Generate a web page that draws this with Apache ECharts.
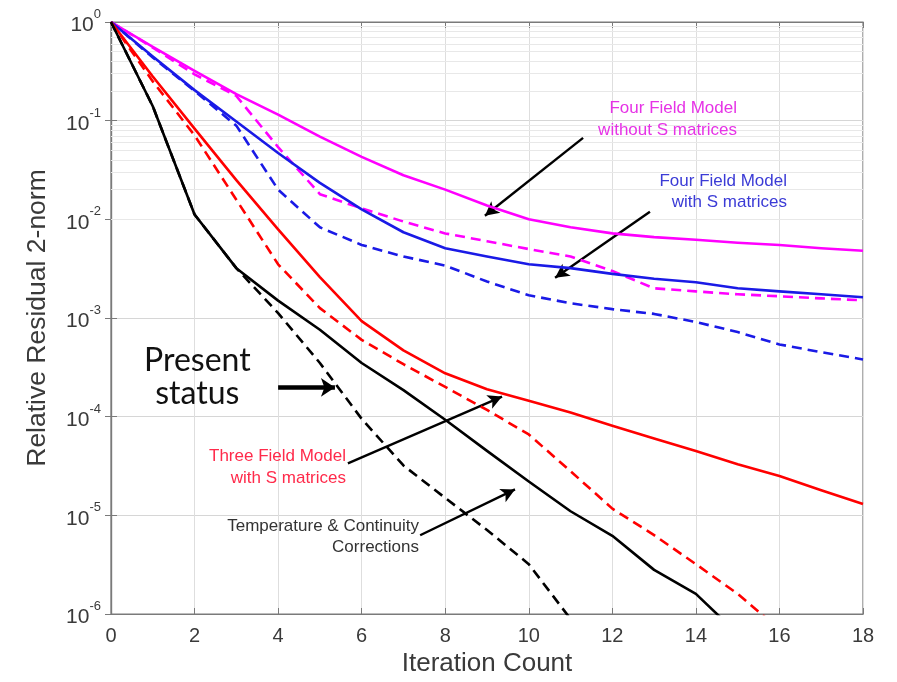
<!DOCTYPE html>
<html><head><meta charset="utf-8">
<script src="https://cdn.jsdelivr.net/npm/echarts@6/dist/echarts.min.js"></script>
<style>html,body{margin:0;padding:0;background:#fff}#c{width:897px;height:682px}</style>
</head><body><div id="c"></div>
<script>
// Iteration counts
const iterations = [0,1,2,3,4,5,6,7,8,9,10,11,12,13,14,15,16,17,18];
// Relative residual 2-norm
const fourFieldNoS       = [1,0.56,0.32,0.186,0.115,0.069,0.043,0.028,0.020,0.0138,0.0100,0.0083,0.0072,0.0066,0.0062,0.0058,0.0055,0.0051,0.0048];
const fourFieldNoSDash   = [1,0.55,0.295,0.178,0.054,0.018,0.0129,0.0095,0.0072,0.0060,0.0050,0.0042,0.0030,0.0020,0.00186,0.00174,0.00166,0.00158,0.00151];
const fourFieldS         = [1,0.447,0.204,0.098,0.047,0.0234,0.0126,0.0074,0.0051,0.0042,0.0035,0.0032,0.0028,0.0025,0.0023,0.0020,0.00186,0.00174,0.00162];
const fourFieldSDash     = [1,0.437,0.20,0.089,0.020,0.0083,0.0055,0.0042,0.0034,0.00234,0.0017,0.00141,0.00123,0.0011,0.00091,0.00072,0.00054,0.00045,0.00038];
const threeFieldS        = [1,0.28,0.083,0.025,0.0079,0.0026,0.00093,0.00047,0.000275,0.00019,0.000145,0.00011,8.1e-5,6.0e-5,4.5e-5,3.3e-5,2.5e-5,1.8e-5,1.3e-5];
const threeFieldSDash    = [1,0.25,0.071,0.0158,0.0035,0.00126,0.0006,0.00034,0.0002,0.000117,6.6e-5,2.8e-5,1.17e-5,6.3e-6,3.2e-6,1.6e-6,7e-7];
const tempCont           = [1,0.14,0.0112,0.0032,0.0015,0.00076,0.00035,0.000186,9.3e-5,4.5e-5,2.2e-5,1.1e-5,6.2e-6,2.8e-6,1.6e-6,6.3e-7];
const tempContDash       = [1,0.14,0.0112,0.0032,0.00112,0.00035,9.5e-5,3.2e-5,1.5e-5,7.1e-6,3.2e-6,8.9e-7];
// Axis ticks
const xTicks = [0,2,4,6,8,10,12,14,16,18];
const yDecades = [1e-6,1e-5,1e-4,1e-3,1e-2,1e-1,1];
const minorMultipliers = [2,3,4,5,6,7,8,9];
// Annotation arrows (data coordinates: [x, y])
const arrowNoS     = [[11.30,0.067],[8.95,0.01086]];
const arrowS       = [[12.90,0.01194],[10.63,0.002564]];
const arrowThree   = [[5.67,3.36e-5],[9.36,1.60e-4]];
const arrowTemp    = [[7.40,6.28e-6],[9.67,1.83e-5]];
const arrowPresent = [[4.0,1.98e-4],[5.36,1.98e-4]];

function pairs(arr){ return arr.map((v,i)=>[iterations[i], v]); }

const minorValues = [];
for (let k = 0; k < yDecades.length - 1; k++) {
  minorMultipliers.forEach(m => minorValues.push(m * yDecades[k]));
}

const chart = echarts.init(document.getElementById('c'));
const font = 'Liberation Sans, Arial, Helvetica, sans-serif';
const axisColor = '#3a3a3a';

function lineSeries(name, data, color, dashed){
  return {
    name, type:'line', data: pairs(data), symbol:'none', smooth:false, clip:true,
    lineStyle:{color, width:2.6, type: dashed ? [10,6] : 'solid', join:'round'},
    z: 5
  };
}
function arrow(a){ return [{coord:a[0]},{coord:a[1]}]; }

const option = {
  animation:false,
  backgroundColor:'#ffffff',
  grid:{left:111, right:34, top:22, bottom:67, show:true, borderColor:'#7a7a7a', borderWidth:1.2},
  xAxis:[{
    type:'value', min:0, max:18, interval:2,
    name:'Iteration Count', nameLocation:'middle', nameGap:37,
    nameTextStyle:{fontSize:26, color:axisColor, fontFamily:font},
    axisLine:{show:true, lineStyle:{color:'#7a7a7a', width:1.2}},
    axisTick:{show:true, inside:true, length:6, lineStyle:{color:'#7a7a7a'}},
    axisLabel:{fontSize:20, color:axisColor, fontFamily:font, margin:12},
    splitLine:{show:true, lineStyle:{color:'#dedede', width:1}}
  },{
    type:'value', min:0, max:18, interval:2, position:'top',
    axisLine:{show:true, lineStyle:{color:'#7a7a7a', width:1.2}},
    axisTick:{show:true, inside:true, length:6, lineStyle:{color:'#7a7a7a'}},
    axisLabel:{show:false}, splitLine:{show:false}
  }],
  yAxis:[{
    type:'log', logBase:10, min:1e-6, max:1, splitNumber:6,
    name:'Relative Residual 2-norm', nameLocation:'middle', nameGap:60,
    nameTextStyle:{fontSize:26.5, color:axisColor, fontFamily:font},
    axisLine:{show:true, lineStyle:{color:'#7a7a7a', width:1.2}},
    axisTick:{show:true, inside:true, length:6, lineStyle:{color:'#7a7a7a'}},
    axisLabel:{
      margin:10, color:axisColor, fontFamily:font,
      formatter: v => '{b|10}{s|' + Math.round(Math.log10(v)) + '}',
      rich:{
        b:{fontSize:21, color:axisColor, fontFamily:font, lineHeight:28, verticalAlign:'bottom'},
        s:{fontSize:13, color:axisColor, fontFamily:font, lineHeight:28, verticalAlign:'top'}
      }
    },
    splitLine:{show:true, lineStyle:{color:'#d6d6d6', width:1}}
  },{
    type:'log', logBase:10, min:1e-6, max:1, splitNumber:6, position:'right',
    axisLine:{show:true, lineStyle:{color:'#7a7a7a', width:1.2}},
    axisTick:{show:true, inside:true, length:6, lineStyle:{color:'#7a7a7a'}},
    axisLabel:{show:false}, splitLine:{show:false}
  }],
  series:[
    {
      type:'line', data:[], silent:true,
      markLine:{
        silent:true, symbol:['none','none'], label:{show:false}, animation:false,
        lineStyle:{color:'#e8e8e8', width:1, type:'solid'},
        data: minorValues.map(v=>({yAxis:v}))
      }, z:1
    },
    lineSeries('Four Field Model without S matrices (dashed)', fourFieldNoSDash, '#ff00ff', true),
    lineSeries('Four Field Model with S matrices (dashed)', fourFieldSDash, '#1a1ae6', true),
    lineSeries('Three Field Model with S matrices (dashed)', threeFieldSDash, '#ff0000', true),
    lineSeries('Temperature & Continuity Corrections (dashed)', tempContDash, '#000000', true),
    lineSeries('Four Field Model without S matrices', fourFieldNoS, '#ff00ff', false),
    lineSeries('Four Field Model with S matrices', fourFieldS, '#1a1ae6', false),
    lineSeries('Three Field Model with S matrices', threeFieldS, '#ff0000', false),
    lineSeries('Temperature & Continuity Corrections', tempCont, '#000000', false),
    {
      type:'line', data:[], silent:true,
      markLine:{
        silent:true, symbol:['none','arrow'], symbolSize:[11,14], label:{show:false}, animation:false,
        lineStyle:{color:'#000', width:2.4, type:'solid'},
        data:[arrow(arrowNoS), arrow(arrowS), arrow(arrowThree), arrow(arrowTemp)]
      }, z:8
    },
    {
      type:'line', data:[], silent:true,
      markLine:{
        silent:true, symbol:['none','arrow'], symbolSize:[14,14], label:{show:false}, animation:false,
        lineStyle:{color:'#000', width:4.5, type:'solid'},
        data:[arrow(arrowPresent)]
      }, z:8
    }
  ],
  graphic:[
    {type:'text', right:897-737, top:97, style:{text:'Four Field Model\nwithout S matrices', fill:'#e633e6', font:'17px '+font, textAlign:'right', lineHeight:22}, z:20},
    {type:'text', right:897-787, top:171, style:{text:'Four Field Model\nwith S matrices', fill:'#3b3bd6', font:'17px '+font, textAlign:'right', lineHeight:21}, z:20},
    {type:'text', right:897-346, top:445, style:{text:'Three Field Model\nwith S matrices', fill:'#ff2a4a', font:'17px '+font, textAlign:'right', lineHeight:22}, z:20},
    {type:'text', right:897-419, top:516, style:{text:'Temperature & Continuity\nCorrections', fill:'#333333', font:'17px '+font, textAlign:'right', lineHeight:21}, z:20},
    {type:'text', left:144, top:344, style:{text:'Present\nstatus', fill:'#111111', font:'32px Lato, "Open Sans", sans-serif', textAlign:'center', lineHeight:33}, z:20}
  ]
};
chart.setOption(option);
</script></body></html>
